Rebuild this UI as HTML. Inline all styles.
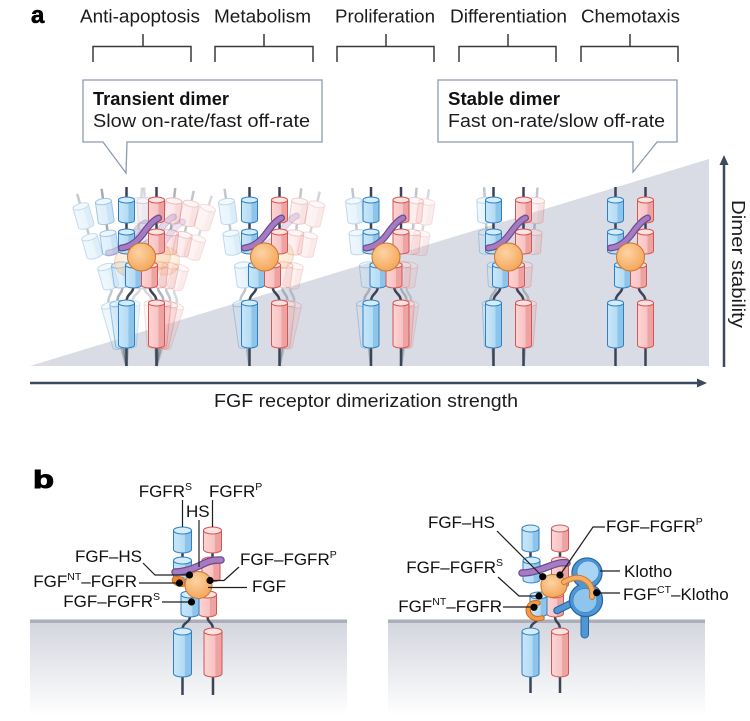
<!DOCTYPE html>
<html><head><meta charset="utf-8"><style>body{margin:0;background:#fff}svg{display:block}</style></head>
<body>
<svg width="750" height="721" viewBox="0 0 750 721" xmlns="http://www.w3.org/2000/svg" xmlns:xlink="http://www.w3.org/1999/xlink" font-family="'Liberation Sans', Arial, sans-serif">
<style>
.cb{fill:url(#gB);stroke:#2f80c2;stroke-width:1}
.cbt{fill:#d3edfb;stroke:#2f80c2;stroke-width:1}
.cr{fill:url(#gR);stroke:#d45552;stroke-width:1}
.crt{fill:#fde2e2;stroke:#d45552;stroke-width:1}
.st{stroke:#3a4457;stroke-width:2.5;fill:none}
.ld{stroke:#1e1e1e;stroke-width:1.2;fill:none}
.lb{font-size:17px;fill:#111}
.tp{font-size:18px;fill:#1c1c1c}
</style>
<defs>
<linearGradient id="gB" x1="0" x2="1" y1="0" y2="0"><stop offset="0" stop-color="#c8e7f9"/><stop offset=".62" stop-color="#b3dbf4"/><stop offset=".64" stop-color="#8cc4ea"/><stop offset="1" stop-color="#8cc4ea"/></linearGradient>
<linearGradient id="gR" x1="0" x2="1" y1="0" y2="0"><stop offset="0" stop-color="#fcd5d5"/><stop offset=".62" stop-color="#f8c2c2"/><stop offset=".64" stop-color="#eea3a3"/><stop offset="1" stop-color="#eea3a3"/></linearGradient>
<radialGradient id="gO" cx=".4" cy=".35" r=".7"><stop offset="0" stop-color="#fdd3a3"/><stop offset="1" stop-color="#f4a457"/></radialGradient>
<linearGradient id="gM" x1="0" y1="0" x2="0" y2="1"><stop offset="0" stop-color="#d3d6de"/><stop offset="1" stop-color="#ffffff"/></linearGradient>

<g id="mB">
<path class="st" d="M0,187V200M0,221V231M0,346V366"/>
<path class="st" d="M7,286C7,294 0,293 0,302"/>
<path class="cb" d="M-8,200V220A8,3 0 0 0 8,220V200Z"/><ellipse class="cbt" cx="0" cy="200" rx="8" ry="3"/>
<path class="cb" d="M-8,232V251A8,3 0 0 0 8,251V232Z"/><ellipse class="cbt" cx="0" cy="232" rx="8" ry="3"/>
<path class="cb" d="M-1,265V285A8,3 0 0 0 15,285V265Z"/><ellipse class="cbt" cx="7" cy="265" rx="8" ry="3"/>
<path class="cb" d="M-8,303V345A8,3 0 0 0 8,345V303Z"/><ellipse class="cbt" cx="0" cy="303" rx="8" ry="3"/>
</g>
<g id="mR">
<path class="st" d="M0,187V200M0,221V231M0,346V366"/>
<path class="st" d="M-7,286C-7,294 0,293 0,302"/>
<path class="cr" d="M-8,200V220A8,3 0 0 0 8,220V200Z"/><ellipse class="crt" cx="0" cy="200" rx="8" ry="3"/>
<path class="cr" d="M-8,232V251A8,3 0 0 0 8,251V232Z"/><ellipse class="crt" cx="0" cy="232" rx="8" ry="3"/>
<path class="cr" d="M-15,265V285A8,3 0 0 0 1,285V265Z"/><ellipse class="crt" cx="-7" cy="265" rx="8" ry="3"/>
<path class="cr" d="M-8,303V345A8,3 0 0 0 8,345V303Z"/><ellipse class="crt" cx="0" cy="303" rx="8" ry="3"/>
</g>
<g id="hb">
<path d="M-20,248C-10,247 -3,240 2,233S12,220 17,218" stroke="#6d4a8c" stroke-width="7" stroke-linecap="round" fill="none"/>
<path d="M-20,248C-10,247 -3,240 2,233S12,220 17,218" stroke="#a57bc3" stroke-width="4.6" stroke-linecap="round" fill="none"/>
<circle cx="0" cy="257" r="14" fill="url(#gO)" stroke="#c9782f" stroke-width="1"/>
</g>
</defs>

<!-- Panel a -->
<text x="31" y="23" font-size="24" font-weight="bold" fill="#000" stroke="#000" stroke-width=".6">a</text>

<text class="tp" x="80" y="22.7" textLength="120" lengthAdjust="spacingAndGlyphs">Anti-apoptosis</text>
<text class="tp" x="214" y="22.7" textLength="97" lengthAdjust="spacingAndGlyphs">Metabolism</text>
<text class="tp" x="335" y="22.7" textLength="100" lengthAdjust="spacingAndGlyphs">Proliferation</text>
<text class="tp" x="450" y="22.7" textLength="117" lengthAdjust="spacingAndGlyphs">Differentiation</text>
<text class="tp" x="581" y="22.7" textLength="99" lengthAdjust="spacingAndGlyphs">Chemotaxis</text>

<g stroke="#3a3a3a" stroke-width="1.5" fill="none">
<path d="M93,62V46.5H191V62M143,34V46.5"/>
<path d="M215,62V46.5H313V62M264,34V46.5"/>
<path d="M337,62V46.5H434V62M386,34V46.5"/>
<path d="M459,62V46.5H556V62M508,34V46.5"/>
<path d="M581,62V46.5H678V62M630,34V46.5"/>
</g>

<!-- triangle -->
<polygon points="30,366 709,159 709,366" fill="#d9dce4"/>

<!-- callouts -->
<path d="M83,80H322V142H127L126,173L103,142H83Z" fill="#fff" stroke="#8d9ab3" stroke-width="1.3"/>
<path d="M438,80H677V142H657L633,172L633,142H438Z" fill="#fff" stroke="#8d9ab3" stroke-width="1.3"/>
<text x="93" y="105" font-size="18" font-weight="bold" fill="#111" textLength="136" lengthAdjust="spacingAndGlyphs">Transient dimer</text>
<text class="tp" x="93" y="127" textLength="217" lengthAdjust="spacingAndGlyphs">Slow on-rate/fast off-rate</text>
<text x="448" y="105" font-size="18" font-weight="bold" fill="#111" textLength="112" lengthAdjust="spacingAndGlyphs">Stable dimer</text>
<text class="tp" x="448" y="127" textLength="217" lengthAdjust="spacingAndGlyphs">Fast on-rate/slow off-rate</text>

<!-- stack 1 -->
<g transform="translate(141.5,0)">
<use xlink:href="#mB" href="#mB" transform="translate(-15,0) rotate(-16 0 366)" opacity=".28"/>
<use xlink:href="#mB" href="#mB" transform="translate(-15,0) rotate(-8 0 366)" opacity=".45"/>
<use xlink:href="#mB" href="#mB" transform="translate(-15,0) rotate(5 0 366)" opacity=".2"/>
<use xlink:href="#mR" href="#mR" transform="translate(15,0) rotate(18 0 366)" opacity=".2"/>
<use xlink:href="#mR" href="#mR" transform="translate(15,0) rotate(12 0 366)" opacity=".3"/>
<use xlink:href="#mR" href="#mR" transform="translate(15,0) rotate(6 0 366)" opacity=".4"/>
<use xlink:href="#mR" href="#mR" transform="translate(15,0) rotate(-4 0 366)" opacity=".2"/>
<use xlink:href="#hb" href="#hb" transform="translate(-13,5)" opacity=".3"/>
<use xlink:href="#hb" href="#hb" transform="translate(15,-1)" opacity=".3"/>
<use xlink:href="#hb" href="#hb" transform="translate(24,4)" opacity=".2"/>
<use xlink:href="#mB" href="#mB" transform="translate(-15,0)"/>
<use xlink:href="#mR" href="#mR" transform="translate(15,0)"/>
<use xlink:href="#hb" href="#hb"/>
</g>
<!-- stack 2 -->
<g transform="translate(264.5,0)">
<use xlink:href="#mB" href="#mB" transform="translate(-15,0) rotate(-8 0 366)" opacity=".3"/>
<use xlink:href="#mR" href="#mR" transform="translate(15,0) rotate(13 0 366)" opacity=".22"/>
<use xlink:href="#mR" href="#mR" transform="translate(15,0) rotate(7 0 366)" opacity=".3"/>
<use xlink:href="#hb" href="#hb" transform="translate(15,-2)" opacity=".25"/>
<use xlink:href="#mB" href="#mB" transform="translate(-15,0)"/>
<use xlink:href="#mR" href="#mR" transform="translate(15,0)"/>
<use xlink:href="#hb" href="#hb"/>
</g>
<!-- stack 3 -->
<g transform="translate(386,0)">
<use xlink:href="#mB" href="#mB" transform="translate(-15,0) rotate(-6 0 366)" opacity=".3"/>
<use xlink:href="#mR" href="#mR" transform="translate(15,0) rotate(9 0 366)" opacity=".2"/>
<use xlink:href="#mR" href="#mR" transform="translate(15,0) rotate(5 0 366)" opacity=".3"/>
<use xlink:href="#mB" href="#mB" transform="translate(-15,0)"/>
<use xlink:href="#mR" href="#mR" transform="translate(15,0)"/>
<use xlink:href="#hb" href="#hb"/>
</g>
<!-- stack 4 -->
<g transform="translate(508.5,0)">
<use xlink:href="#mB" href="#mB" transform="translate(-15,0) rotate(-3 0 366)" opacity=".3"/>
<use xlink:href="#mR" href="#mR" transform="translate(15,0) rotate(4.5 0 366)" opacity=".3"/>
<use xlink:href="#mB" href="#mB" transform="translate(-15,0)"/>
<use xlink:href="#mR" href="#mR" transform="translate(15,0)"/>
<use xlink:href="#hb" href="#hb"/>
</g>
<!-- stack 5 -->
<g transform="translate(630.5,0)">
<use xlink:href="#mB" href="#mB" transform="translate(-15,0)"/>
<use xlink:href="#mR" href="#mR" transform="translate(15,0)"/>
<use xlink:href="#hb" href="#hb"/>
</g>

<!-- axes -->
<path d="M30,383H699" stroke="#3c4a5e" stroke-width="2.5"/>
<path d="M707,383L697,378.5V387.5Z" fill="#3c4a5e"/>
<path d="M724,367V163" stroke="#3c4a5e" stroke-width="2.5"/>
<path d="M724,155L719.5,165H728.5Z" fill="#3c4a5e"/>
<text class="tp" x="214" y="407" textLength="304" lengthAdjust="spacingAndGlyphs">FGF receptor dimerization strength</text>
<text class="tp" transform="translate(732,200) rotate(90)" x="0" y="0" textLength="128" lengthAdjust="spacingAndGlyphs">Dimer stability</text>

<!-- Panel b -->
<text x="33" y="488" font-size="25" font-weight="bold" fill="#000" stroke="#000" stroke-width="1" textLength="21" lengthAdjust="spacingAndGlyphs">b</text>

<!-- left membrane -->
<rect x="30" y="622" width="317" height="94" fill="url(#gM)"/>
<rect x="30" y="619.5" width="317" height="3.5" fill="#a9aeb8"/>
<!-- right membrane -->
<rect x="388" y="622" width="317" height="94" fill="url(#gM)"/>
<rect x="388" y="619.5" width="317" height="3.5" fill="#a9aeb8"/>

<!-- left receptor -->
<path class="st" d="M182.5,676V695M213,676V695"/>
<path class="st" d="M190,616C190,624 182.5,621 182.5,630M207.5,616C207.5,624 213,621 213,630"/>
<path class="cb" d="M173.5,631.5V673.5A9,3.5 0 0 0 191.5,673.5V631.5Z"/><ellipse class="cbt" cx="182.5" cy="631.5" rx="9" ry="3.5"/>
<path class="cr" d="M204,631.5V673.5A9,3.5 0 0 0 222,673.5V631.5Z"/><ellipse class="crt" cx="213" cy="631.5" rx="9" ry="3.5"/>
<path class="st" stroke-width="2" d="M182.5,552V559M212.5,552V559"/>
<path class="cr" d="M203.5,530.5V549.5A9,3.5 0 0 0 221.5,549.5V530.5Z"/><ellipse class="crt" cx="212.5" cy="530.5" rx="9" ry="3.5"/>
<path class="cr" d="M202,560.5V578.5A9,3.5 0 0 0 220,578.5V560.5Z"/><ellipse class="crt" cx="211" cy="560.5" rx="9" ry="3.5"/>
<path class="cr" d="M198.5,594.5V613.5A9,3.5 0 0 0 216.5,613.5V594.5Z"/><ellipse class="crt" cx="207.5" cy="594.5" rx="9" ry="3.5"/>
<path class="cb" d="M173.5,530.5V549.5A9,3.5 0 0 0 191.5,549.5V530.5Z"/><ellipse class="cbt" cx="182.5" cy="530.5" rx="9" ry="3.5"/>
<path class="cb" d="M173.5,560.5V576.5A9,3.5 0 0 0 191.5,576.5V560.5Z"/><ellipse class="cbt" cx="182.5" cy="560.5" rx="9" ry="3.5"/>
<path d="M175,572C185,572 195,568 203,564S215,560 221,560" stroke="#6d4a8c" stroke-width="7.5" stroke-linecap="round" fill="none"/>
<path d="M175,572C185,572 195,568 203,564S215,560 221,560" stroke="#a57bc3" stroke-width="5" stroke-linecap="round" fill="none"/>
<path class="cb" d="M181,594.5V613.5A9,3.5 0 0 0 199,613.5V594.5Z"/><ellipse class="cbt" cx="190" cy="594.5" rx="9" ry="3.5"/>
<path d="M172,580C172,576 178,575 184,578L185,586C179,588 173,585 172,580Z" fill="#f08a2c" stroke="#c9682a" stroke-width=".8"/>
<circle cx="198.5" cy="585" r="13.5" fill="url(#gO)" stroke="#c9782f"/>

<g class="ld">
<path d="M182.5,500V527M212.5,500V527M199,520V567"/>
<path d="M143,563L155,575H189.5"/>
<path d="M139,583H179.5"/>
<path d="M162,602H191.5"/>
<path d="M210,580.5H224L239,567"/>
<path d="M208,587.5H247"/>
</g>
<g fill="#000">
<circle cx="189.5" cy="575" r="3.6"/><circle cx="179.5" cy="583" r="3.6"/><circle cx="210" cy="580.5" r="3.6"/><circle cx="191.5" cy="602" r="3.6"/>
</g>
<text class="lb" x="192" y="497" text-anchor="end">FGFR<tspan font-size="10.5" dy="-7">S</tspan></text>
<text class="lb" x="209" y="497">FGFR<tspan font-size="10.5" dy="-7">P</tspan></text>
<text class="lb" x="186" y="517">HS</text>
<text class="lb" x="142" y="562" text-anchor="end">FGF–HS</text>
<text class="lb" x="137" y="587" text-anchor="end">FGF<tspan font-size="10.5" dy="-7">NT</tspan><tspan dy="7">–FGFR</tspan></text>
<text class="lb" x="160" y="607" text-anchor="end">FGF–FGFR<tspan font-size="10.5" dy="-7">S</tspan></text>
<text class="lb" x="240" y="565">FGF–FGFR<tspan font-size="10.5" dy="-7">P</tspan></text>
<text class="lb" x="252" y="592">FGF</text>

<!-- right receptor -->
<path class="st" d="M530.5,676V693M560,676V693"/>
<path class="st" d="M538.5,616C538.5,624 530.5,621 530.5,630M555,616C555,624 560,621 560,630"/>
<path class="cb" d="M522,631.5V673.5A8.5,3.5 0 0 0 539,673.5V631.5Z"/><ellipse class="cbt" cx="530.5" cy="631.5" rx="8.5" ry="3.5"/>
<path class="cr" d="M551.5,631.5V673.5A8.5,3.5 0 0 0 568.5,673.5V631.5Z"/><ellipse class="crt" cx="560" cy="631.5" rx="8.5" ry="3.5"/>
<path class="st" stroke-width="2" d="M530.5,551V558M560,551V558"/>
<path class="cr" d="M551.5,528.5V548.5A8.5,3.5 0 0 0 568.5,548.5V528.5Z"/><ellipse class="crt" cx="560" cy="528.5" rx="8.5" ry="3.5"/>
<path class="cr" d="M551.5,560.5V584.5A8.5,3.5 0 0 0 568.5,584.5V560.5Z"/><ellipse class="crt" cx="560" cy="560.5" rx="8.5" ry="3.5"/>
<path class="cr" d="M546.5,594.5V613.5A8.5,3.5 0 0 0 563.5,613.5V594.5Z"/><ellipse class="crt" cx="555" cy="594.5" rx="8.5" ry="3.5"/>
<path class="cb" d="M522,528.5V548.5A8.5,3.5 0 0 0 539,548.5V528.5Z"/><ellipse class="cbt" cx="530.5" cy="528.5" rx="8.5" ry="3.5"/>
<path class="cb" d="M523,560.5V579.5A8.5,3.5 0 0 0 540,579.5V560.5Z"/><ellipse class="cbt" cx="531.5" cy="560.5" rx="8.5" ry="3.5"/>
<path d="M522,573C532,573 542,569 550,566S562,562 567,563" stroke="#6d4a8c" stroke-width="7.5" stroke-linecap="round" fill="none"/>
<path d="M522,573C532,573 542,569 550,566S562,562 567,563" stroke="#a57bc3" stroke-width="5" stroke-linecap="round" fill="none"/>
<path class="cb" d="M530,595.5V613.5A8.5,3.5 0 0 0 547,613.5V595.5Z"/><ellipse class="cbt" cx="538.5" cy="595.5" rx="8.5" ry="3.5"/>

<!-- Klotho -->
<rect x="581" y="606" width="7.5" height="32" rx="3.7" fill="#4f97d3" stroke="#2366a8"/>
<path d="M574,602L557,610.5" stroke="#2366a8" stroke-width="7.5" stroke-linecap="round"/>
<path d="M574,602L557,610.5" stroke="#4f97d3" stroke-width="5.2" stroke-linecap="round"/>
<circle cx="587" cy="573" r="15" fill="#4f97d3" stroke="#2366a8" stroke-width="1.3"/>
<circle cx="586" cy="600" r="16.5" fill="#4f97d3" stroke="#2366a8" stroke-width="1.3"/>
<circle cx="587" cy="573" r="14.3" fill="#4f97d3"/>
<circle cx="588" cy="572" r="11" fill="#a9d4f3" stroke="#3f86c6" stroke-width=".8"/>
<circle cx="585" cy="600.5" r="12" fill="#8ec5ec" stroke="#3f86c6" stroke-width=".8"/>

<!-- FGF blob -->
<path d="M541,586C540,577 549,573 557,575C565,577 569,583 566,590C563,597 552,599 546,596C542,594 541,590 541,586Z" fill="url(#gO)" stroke="#c9782f"/>
<path d="M564,582C571,578 579,576 585,580C591,584 593,590 592,597" stroke="#c9782f" stroke-width="6" stroke-linecap="round" fill="none"/>
<path d="M564,582C571,578 579,576 585,580C591,584 593,590 592,597" stroke="#f5ad62" stroke-width="4" stroke-linecap="round" fill="none"/>
<path d="M538,603C529,601 526,611 530,615C533,619 538,619 542,618" stroke="#c9682a" stroke-width="5.5" stroke-linecap="round" fill="none"/>
<path d="M538,603C529,601 526,611 530,615C533,619 538,619 542,618" stroke="#f39a45" stroke-width="3.5" stroke-linecap="round" fill="none"/>

<g class="ld">
<path d="M497,531L543,577"/>
<path d="M605,527H593L560,575"/>
<path d="M498,577L519,596H539"/>
<path d="M503,607H534"/>
<path d="M600,571H620"/>
<path d="M597,593H620"/>
</g>
<g fill="#000">
<circle cx="542.7" cy="576.7" r="3.6"/><circle cx="560" cy="575" r="3.6"/><circle cx="539" cy="596" r="3.6"/><circle cx="534" cy="607.3" r="3.6"/><circle cx="596.7" cy="592.7" r="3.6"/>
</g>
<text class="lb" x="495" y="528" text-anchor="end">FGF–HS</text>
<text class="lb" x="606" y="532">FGF–FGFR<tspan font-size="10.5" dy="-7">P</tspan></text>
<text class="lb" x="503" y="573" text-anchor="end">FGF–FGFR<tspan font-size="10.5" dy="-7">S</tspan></text>
<text class="lb" x="502" y="612" text-anchor="end">FGF<tspan font-size="10.5" dy="-7">NT</tspan><tspan dy="7">–FGFR</tspan></text>
<text class="lb" x="624" y="577">Klotho</text>
<text class="lb" x="623" y="600">FGF<tspan font-size="10.5" dy="-7">CT</tspan><tspan dy="7">–Klotho</tspan></text>
</svg>
</body></html>
